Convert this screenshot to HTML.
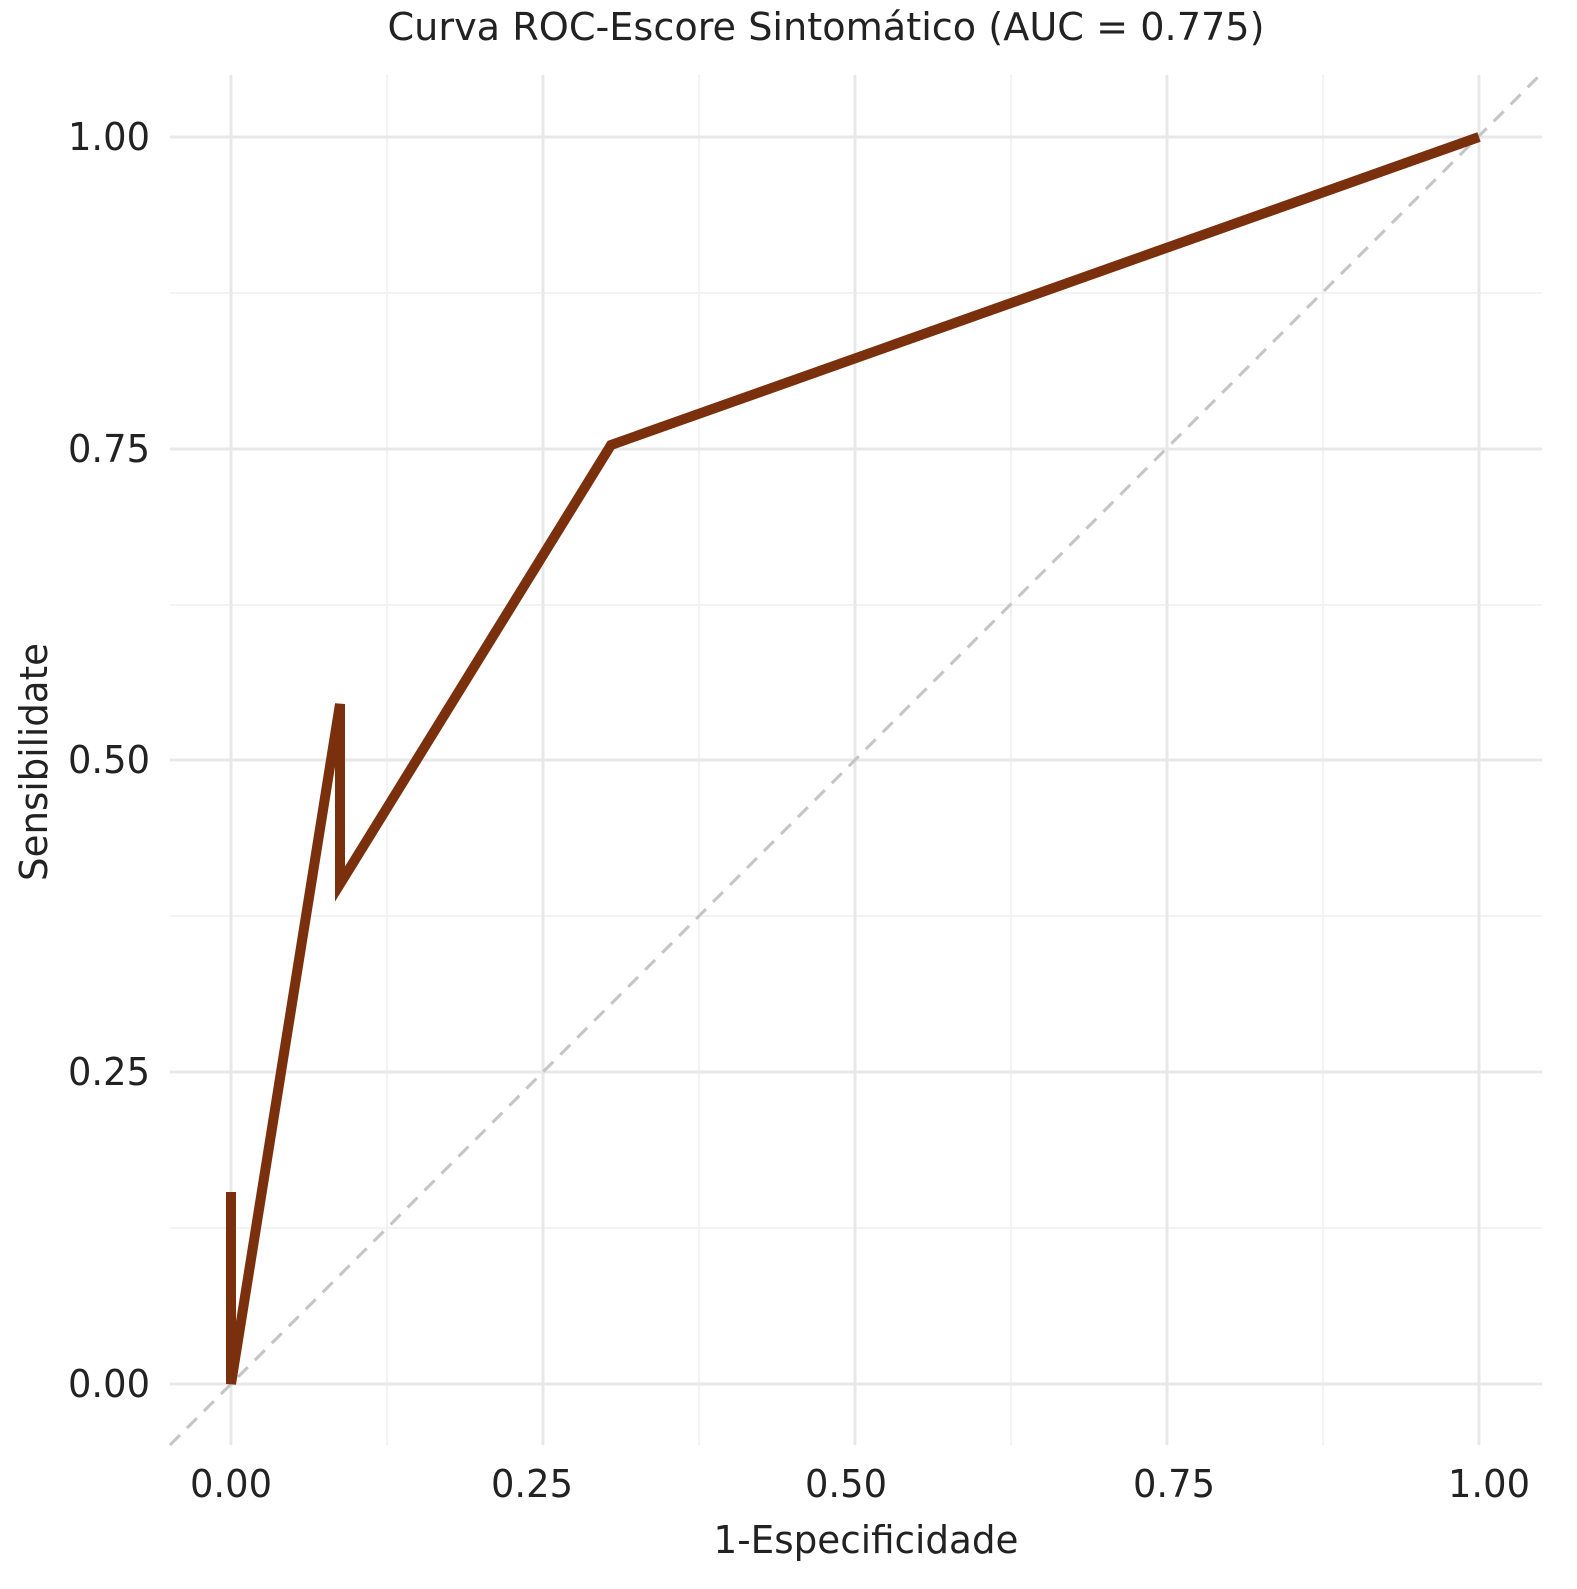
<!DOCTYPE html>
<html><head><meta charset="utf-8"><style>html,body{margin:0;padding:0;background:#fff}</style></head>
<body>
<svg width="1577" height="1584" viewBox="0 0 1577 1584" xmlns="http://www.w3.org/2000/svg" font-family="'DejaVu Sans','Liberation Sans',sans-serif" fill="#222">
<rect width="1577" height="1584" fill="#fff"/>
<g stroke="#efefef" stroke-width="1.5">
<line x1="387" y1="75" x2="387" y2="1445"/><line x1="699" y1="75" x2="699" y2="1445"/><line x1="1011" y1="75" x2="1011" y2="1445"/><line x1="1323" y1="75" x2="1323" y2="1445"/>
<line x1="170" y1="293" x2="1542" y2="293"/><line x1="170" y1="605" x2="1542" y2="605"/><line x1="170" y1="916" x2="1542" y2="916"/><line x1="170" y1="1228" x2="1542" y2="1228"/>
</g>
<g stroke="#e8e8e8" stroke-width="3">
<line x1="231" y1="75" x2="231" y2="1445"/><line x1="543" y1="75" x2="543" y2="1445"/><line x1="855" y1="75" x2="855" y2="1445"/><line x1="1167" y1="75" x2="1167" y2="1445"/><line x1="1479" y1="75" x2="1479" y2="1445"/>
<line x1="170" y1="137" x2="1542" y2="137"/><line x1="170" y1="449" x2="1542" y2="449"/><line x1="170" y1="760" x2="1542" y2="760"/><line x1="170" y1="1072" x2="1542" y2="1072"/><line x1="170" y1="1384" x2="1542" y2="1384"/>
</g>
<line x1="170" y1="1445" x2="1542" y2="73" stroke="#c4c4c4" stroke-width="3" stroke-dasharray="14,10"/>
<polyline points="231,1192 231,1384 340,704 340,884 611,445 1479,137" fill="none" stroke="#7a300d" stroke-width="10" stroke-linejoin="miter" stroke-miterlimit="10"/>
<text x="826" y="40" font-size="38" text-anchor="middle" textLength="877" lengthAdjust="spacingAndGlyphs">Curva ROC-Escore Sintomático (AUC = 0.775)</text>
<g font-size="38" text-anchor="end">
<text x="150" y="150" textLength="82" lengthAdjust="spacingAndGlyphs">1.00</text>
<text x="150" y="462" textLength="82" lengthAdjust="spacingAndGlyphs">0.75</text>
<text x="150" y="773" textLength="82" lengthAdjust="spacingAndGlyphs">0.50</text>
<text x="150" y="1085" textLength="82" lengthAdjust="spacingAndGlyphs">0.25</text>
<text x="150" y="1397" textLength="82" lengthAdjust="spacingAndGlyphs">0.00</text>
</g>
<g font-size="38" text-anchor="middle">
<text x="231" y="1497" textLength="82" lengthAdjust="spacingAndGlyphs">0.00</text>
<text x="532" y="1497" textLength="82" lengthAdjust="spacingAndGlyphs">0.25</text>
<text x="846" y="1497" textLength="82" lengthAdjust="spacingAndGlyphs">0.50</text>
<text x="1174" y="1497" textLength="82" lengthAdjust="spacingAndGlyphs">0.75</text>
<text x="1489" y="1497" textLength="82" lengthAdjust="spacingAndGlyphs">1.00</text>
<text x="866" y="1553" textLength="305" lengthAdjust="spacingAndGlyphs">1-Especificidade</text>
</g>
<text transform="translate(47,762) rotate(-90)" font-size="38" text-anchor="middle" textLength="238" lengthAdjust="spacingAndGlyphs">Sensibilidate</text>
</svg>
</body></html>
